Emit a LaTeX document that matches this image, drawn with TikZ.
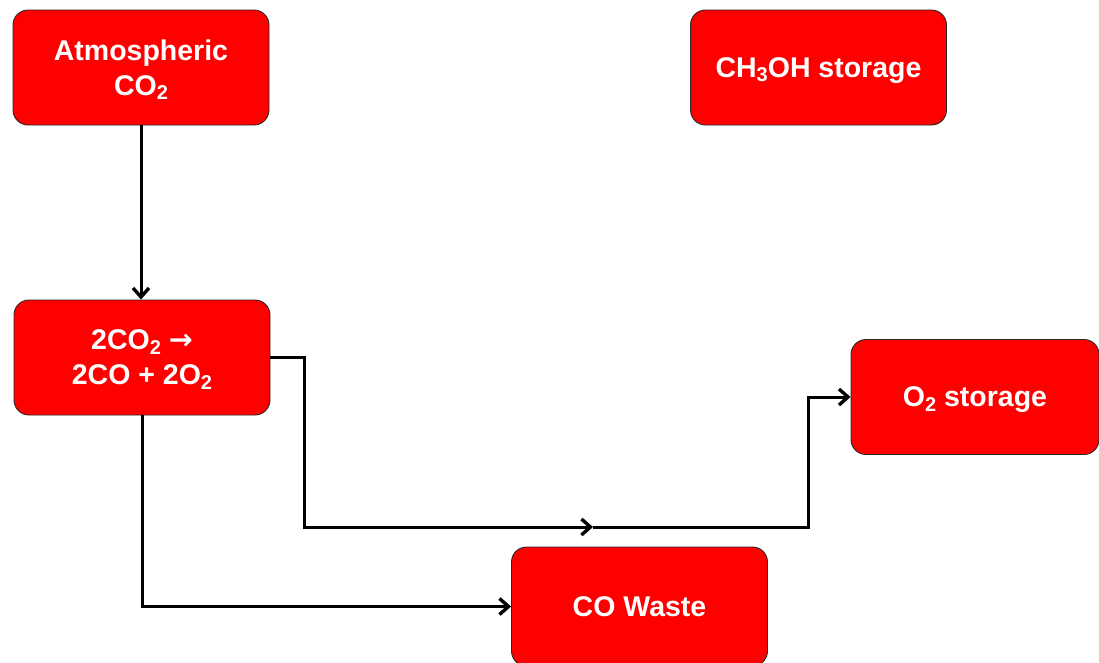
\documentclass[tikz,border=0pt]{standalone}
\usepackage{fontspec}
\setmainfont{Liberation Sans}
\newfontfamily\arrfont{DejaVu Sans}
\usetikzlibrary{arrows.meta}
\definecolor{boxred}{RGB}{255,0,0}
\definecolor{boxline}{RGB}{40,40,40}
\newcommand{\sub}[1]{\raisebox{-0.3ex}{\fontsize{20}{20}\selectfont #1}}
\begin{document}
\begin{tikzpicture}[x=1pt,y=-1pt,
  box/.style={draw=boxline, line width=0.9pt, fill=boxred, rounded corners=15pt,
    minimum width=256pt, minimum height=115pt, inner sep=0pt, align=center,
    text depth=0pt,
    text=white, font=\fontsize{28.5}{35}\selectfont\bfseries},
  conn/.style={line width=3pt, black},
  arr/.style={conn, -{Straight Barb[length=9pt,width=16pt,line width=3.4pt]}}]
\useasboundingbox (0,0) rectangle (1099,662);
\node[box] (atm) at (141,67.5) {Atmospheric\\CO\sub{2}};
\node[box] (ch3) at (818.5,67.5) {CH\sub{3}OH storage};
\node[box] (rxn) at (142,357.5) {2CO\sub{2} {\arrfont →}\\2CO + 2O\sub{2}};
\node[box, minimum width=248pt] (o2) at (975,397) {O\sub{2} storage};
\node[box, minimum height=119pt] (co) at (639.5,606.5) {CO Waste};
\coordinate (j1) at (304,357.5);
\coordinate (mid) at (593,527);
\coordinate (j2) at (808,527);
\draw[arr] (atm.south) -- (atm.south |- rxn.north);
\draw[arr] (rxn.east) -- (j1) |- (mid);
\draw[arr] (mid) -- (j2) |- (o2.west);
\draw[arr] (rxn.south) |- (co.west);
\end{tikzpicture}
\end{document}
